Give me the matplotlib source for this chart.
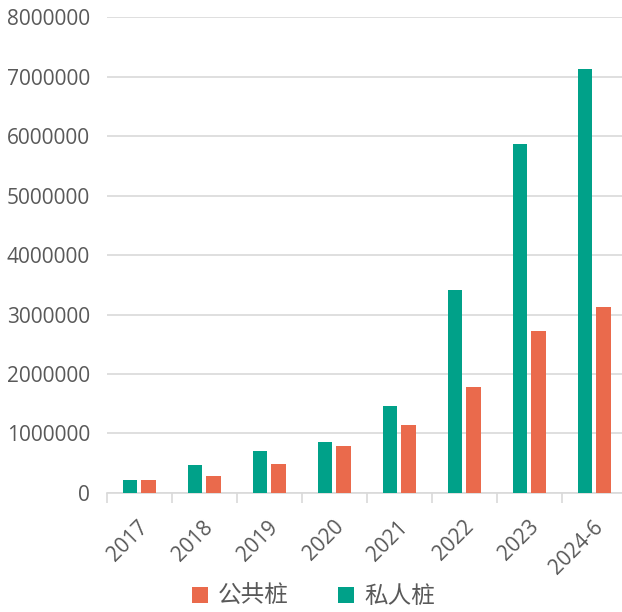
import matplotlib
matplotlib.use("Agg")
import matplotlib.pyplot as plt
import matplotlib.transforms as mtransforms
import numpy as np

categories = ["2017", "2018", "2019", "2020", "2021", "2022", "2023", "2024-6"]
private_piles = [224000, 466000, 702000, 859000, 1460000, 3410000, 5870000, 7130000]
public_piles = [214000, 290000, 495000, 786000, 1135000, 1780000, 2720000, 3120000]
yticks = [0, 1000000, 2000000, 3000000, 4000000, 5000000, 6000000, 7000000, 8000000]

plt.rcParams['font.family'] = ['Open Sans', 'Noto Sans CJK SC', 'DejaVu Sans']

teal = '#00a189'
orange = '#ea6a4c'
txt = '#595959'
grid = '#d9d9d9'

fig = plt.figure(figsize=(6.22, 6.12), dpi=100)
ax = fig.add_axes([0.1715, 0.1945, 0.836, 0.7775])

x = np.arange(len(categories))
w = 0.226
off = 0.142
b_pub = ax.bar(x + off, public_piles, width=w, color=orange, label='公共桩', zorder=3)
b_pri = ax.bar(x - off, private_piles, width=w, color=teal, label='私人桩', zorder=3)

ax.set_xlim(-0.5, len(categories) - 0.5)
ax.set_ylim(0, 8000000)
ax.set_yticks(yticks)
ax.set_yticklabels([str(v) for v in yticks])
ax.yaxis.grid(True, color=grid, linewidth=1.2, zorder=0)
ax.set_axisbelow(True)

for s in ['left', 'right', 'top']:
    ax.spines[s].set_visible(False)
ax.spines['bottom'].set_color(grid)
ax.spines['bottom'].set_linewidth(1.2)

ax.set_xticks(x)
ax.set_xticklabels(categories, rotation=45, ha='right', va='top', rotation_mode='anchor')
ax.tick_params(axis='x', which='major', length=0, pad=17, labelsize=15, colors=txt)
shift = mtransforms.ScaledTranslation(-1 / 72, 0, fig.dpi_scale_trans)
for lab in ax.get_xticklabels():
    lab.set_transform(lab.get_transform() + shift)
ax.set_xticks(np.arange(-0.5, len(categories), 1.0), minor=True)
ax.tick_params(axis='x', which='minor', length=7.2, width=1.2, color=grid)
ax.tick_params(axis='y', length=0, pad=12, labelsize=15, colors=txt)

leg = fig.legend(handles=[b_pub, b_pri], loc='center', bbox_to_anchor=(0.504, 0.024),
                 ncol=2, frameon=False, fontsize=17, handlelength=0.68, handleheight=0.68,
                 columnspacing=2.1, handletextpad=0.42)
for t in leg.get_texts():
    t.set_color(txt)

fig.savefig('out.png', dpi=100)
